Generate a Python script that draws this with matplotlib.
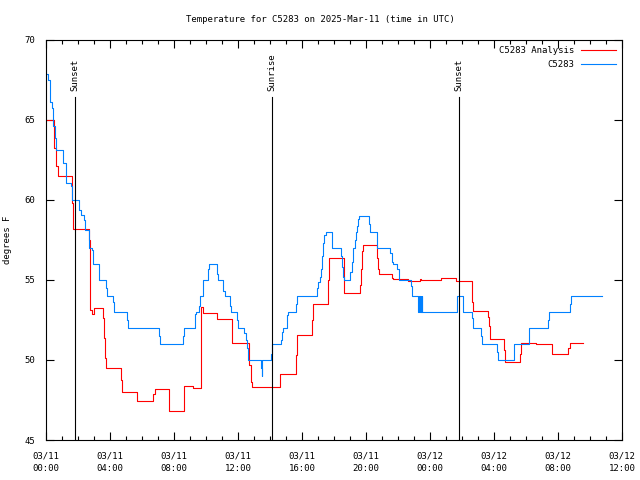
import matplotlib
matplotlib.use("Agg")
import matplotlib.pyplot as plt
import numpy as np

# hours since 03/11 00:00 UTC, degrees F (step data)
obs_hours = [0.04, 0.14, 0.25, 0.36, 0.46, 0.56, 0.63, 1.04, 1.25, 1.54, 1.6, 1.64,
             2.08, 2.17, 2.39, 2.46, 2.71, 2.85, 2.92, 2.96, 3.31, 3.33, 3.77, 3.8,
             4.21, 4.25, 5.08, 5.14, 7.08, 7.125, 8.58, 8.64, 9.31, 9.375, 9.58, 9.625,
             9.79, 10.1, 10.17, 10.67, 10.77, 11.08, 11.19, 11.5, 11.54, 11.96, 12.02,
             12.39, 12.5, 12.58, 12.64, 13.43, 13.48, 13.52, 14.06, 14.14, 14.67, 14.73,
             14.79, 15.04, 15.08, 15.14, 15.625, 15.67, 16.92, 17.02, 17.125, 17.17,
             17.27, 17.33, 17.39, 17.48, 17.86, 18.44, 18.48, 18.58, 18.64, 19.0, 19.1,
             19.17, 19.31, 19.375, 19.46, 19.52, 19.58, 20.21, 20.25, 20.67, 20.71, 21.5,
             21.6, 21.7, 21.96, 22.06, 22.79, 22.85, 23.23, 23.28, 23.33, 23.375, 23.42,
             23.46, 23.5, 23.53, 25.71, 26.04, 26.08, 26.64, 26.71, 27.19, 27.23, 28.17,
             28.23, 29.27, 30.19, 30.21, 31.35, 31.44, 32.75, 32.81, 34.73]
obs_temps = [67.9, 67.5, 66.1, 65.75, 64.6, 63.9, 63.1, 62.3, 61.06, 60.9, 60.4, 60.0,
             59.4, 59.06, 58.75, 58.1, 57.0, 56.9, 56.5, 56.0, 55.5, 55.0, 54.5, 54.0,
             53.65, 53.0, 52.5, 52.0, 51.5, 51.0, 51.5, 52.0, 52.9, 53.0, 53.4, 54.0,
             55.0, 55.7, 56.0, 55.4, 55.0, 54.3, 54.0, 53.4, 53.0, 52.5, 52.0,
             51.67, 51.25, 50.73, 50.0, 49.5, 49.0, 50.0, 50.4, 51.0, 51.25, 51.77,
             52.0, 52.4, 52.8, 53.0, 53.5, 54.0, 54.5, 54.9, 55.2, 55.7,
             56.5, 57.3, 57.8, 58.0, 57.0, 56.5, 55.8, 55.2, 55.0, 55.5, 56.1,
             57.0, 57.5, 58.0, 58.4, 58.8, 59.0, 58.5, 58.0, 57.5, 57.0, 56.7,
             56.15, 56.0, 55.7, 55.0, 54.6, 54.0, 53.75, 53.0, 54.0, 53.0, 54.0,
             53.0, 54.0, 53.0, 54.0, 53.65, 53.0, 52.6, 52.0, 51.5, 51.0, 50.5,
             50.0, 51.0, 51.5, 52.0, 52.5, 53.0, 53.5, 54.0, 54.0]

ana_hours = [0.04, 0.5, 0.6, 0.65, 0.73, 1.6, 1.67, 1.71, 2.71, 2.72, 2.75, 2.85, 3.0,
             3.58, 3.625, 3.69, 3.73, 4.71, 4.77, 5.71, 6.71, 6.79, 7.67, 8.64, 9.2,
             9.67, 9.83, 10.67, 11.64, 12.7, 12.8, 12.86, 14.625, 15.625, 15.67, 16.65,
             16.67, 17.64, 17.69, 18.625, 18.64, 19.625, 19.67, 19.73, 19.79, 20.67,
             20.73, 20.79, 21.6, 21.7, 22.65, 23.4, 23.45, 24.67, 25.625, 26.6, 26.67,
             27.65, 27.69, 27.75, 28.625, 28.69, 29.625, 29.67, 30.6, 31.6, 31.64,
             32.64, 32.75, 33.58]
ana_temps = [65.0, 63.25, 63.2, 62.1, 61.5, 59.8, 58.6, 58.2, 57.5, 55.6, 53.1, 52.9, 53.25,
             52.6, 51.4, 50.1, 49.5, 48.75, 48.0, 47.45, 47.9, 48.2, 46.8, 48.4, 48.25,
             53.3, 52.96, 52.56, 51.04, 49.7, 48.65, 48.3, 49.1, 50.3, 51.56, 52.5,
             53.5, 55.0, 56.4, 55.6, 54.2, 54.7, 55.7, 56.8, 57.2, 56.35,
             55.67, 55.4, 55.1, 55.04, 54.96, 55.05, 55.0, 55.1, 54.96, 53.6, 53.06,
             52.7, 52.1, 51.3, 50.6, 49.85, 50.4, 51.04, 51.0, 50.8, 50.4,
             50.73, 51.04, 51.04]

sun_events = ["Sunset", "Sunrise", "Sunset"]
sun_hours = [1.81, 14.13, 25.81]

tick_hours = list(range(0, 37, 4))
tick_labels = ["03/11\n00:00", "03/11\n04:00", "03/11\n08:00", "03/11\n12:00",
               "03/11\n16:00", "03/11\n20:00", "03/12\n00:00", "03/12\n04:00",
               "03/12\n08:00", "03/12\n12:00"]

plt.rcParams["font.family"] = "DejaVu Sans Mono"
plt.rcParams["font.size"] = 6.5

fig = plt.figure(figsize=(6.4, 4.8), dpi=100)
ax = fig.add_axes([46 / 640, 40 / 480, 576 / 640, 400 / 480])

ax.plot(ana_hours, ana_temps, drawstyle="steps-post", color="#ff0000", lw=0.8,
        label="C5283 Analysis")
ax.plot(obs_hours, obs_temps, drawstyle="steps-post", color="#0080ff", lw=0.8,
        label="C5283")

for name, h in zip(sun_events, sun_hours):
    ax.plot([h, h], [45, 66.45], color="black", lw=0.8)
    ax.text(h, 66.8, name, rotation=90, ha="center", va="bottom")

ax.set_xlim(0, 36)
ax.set_ylim(45, 70)
ax.set_xticks(tick_hours)
ax.set_xticklabels(tick_labels, linespacing=1.6)
ax.set_xticks(range(0, 37), minor=True)
ax.set_yticks(range(45, 71, 5))
ax.tick_params(which="both", direction="in", top=True, right=True, width=0.8)
ax.tick_params(which="major", length=6, pad=8)
ax.tick_params(which="minor", length=3)
for s in ax.spines.values():
    s.set_linewidth(0.8)

ax.set_ylabel("degrees F")
ax.yaxis.set_label_coords(-0.059, 0.5)
fig.text(0.5, 1 - 19 / 480, "Temperature for C5283 on 2025-Mar-11 (time in UTC)",
         ha="center", va="center")

ax.legend(loc="upper right", frameon=False, markerfirst=False, handlelength=3.8,
          borderaxespad=0.3, labelspacing=0.5, handletextpad=0.8)

fig.savefig("out.png", dpi=100)
